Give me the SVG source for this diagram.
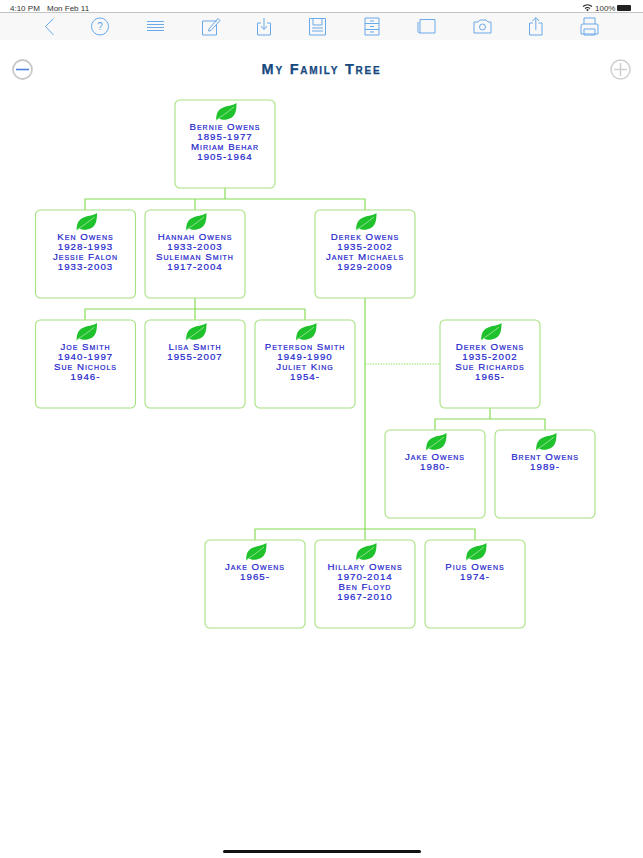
<svg xmlns="http://www.w3.org/2000/svg" xmlns:xlink="http://www.w3.org/1999/xlink" width="643" height="858" viewBox="0 0 643 858">
<style>
.box{fill:#fff;stroke:#a6e27e;stroke-width:1.1}
.t{font-family:"Liberation Sans",Arial,sans-serif;font-size:9.7px;font-variant:small-caps;letter-spacing:1px;fill:#2424cc;stroke:#2424cc;stroke-width:.2;text-anchor:middle}
.c{fill:none;stroke:#85dc55;stroke-width:1.2}
.d{fill:none;stroke:#85dc55;stroke-width:1;stroke-dasharray:1.3 1.3}
.i{fill:none;stroke:#6aa9ea;stroke-width:1}
.st{font-family:"Liberation Sans",Arial,sans-serif;font-size:8px;fill:#333}
</style>
<defs>
<g id="leaf">
<path d="M-10 8.500C-9.500 5-10-1-4-4 1-6.500 6-6 10.500-9 10.500-3 10 3 5 6 0 8.500-4 8-7 6.500L-10 8.500Z" fill="#1fc22c"/>
<path d="M-10.500 8.500C-4 4 2 0 8-5" fill="none" stroke="#d8f5d0" stroke-width=".6"/>
</g>
</defs>
<rect width="643" height="858" fill="#fff"/>
<g id="toolbar">
<rect x="0" y="13" width="643" height="27" fill="#f8f8f8"/>
<line x1="0" y1="12.500" x2="643" y2="12.500" stroke="#c4c4c4"/>
<text class="st" x="10" y="10.500">4:10 PM</text>
<text class="st" x="47" y="10.500">Mon Feb 11</text>
<text class="st" x="595" y="10.500">100%</text>
<path d="M583 6.500Q587.500 3 592 6.500M585 8.500Q587.500 6.500 590 8.500" fill="none" stroke="#222" stroke-width="1.200"/>
<circle cx="587.500" cy="10" r="1" fill="#222"/>
<rect x="617" y="5" width="14" height="6" rx="1" fill="#222"/>
<path class="i" d="M53.500 18.500L45.500 26.500L53.500 35"/>
<circle class="i" cx="100" cy="26.500" r="8.500"/>
<text x="100" y="30" font-family="Liberation Sans,sans-serif" font-size="10" fill="#5b9fe6" text-anchor="middle">?</text>
<path class="i" d="M147 21.500H164M147 24.500H164M147 27.500H164M147 30.500H164"/>
<path class="i" d="M217 21H202.500V35H216.500V24.500M209 29L218 18.500L220 20.500L211 30.500L208.500 31Z"/>
<path class="i" d="M261 23H257.500V35H270.500V23H267M264 18V29M261 26L264 29.500L267 26"/>
<path class="i" d="M309.500 18.500H325.500V35H309.500ZM313 18.500V25H322V18.500M312 28H323M312 31H323"/>
<path class="i" d="M365 18H379V35H365ZM365 23.500H379M365 29.500H379M370 21H374M370 26.500H374M370 32H374"/>
<path class="i" d="M418 22V31.500Q418 33 420 33M420 19.500H435V33H420Z"/>
<path class="i" d="M474 22H478L480 20H486L488 22H491V33H474Z"/>
<circle class="i" cx="482.500" cy="27" r="3"/>
<path class="i" d="M533 23H529.500V35H542V23H538.500M535.800 30V18M532.500 21L535.800 17.500L539 21"/>
<path class="i" d="M584 24V18H595V24M581 34H598V25Q598 24 596 24H583Q581 24 581 26ZM584 29H595V35H584Z"/>
</g>
<g id="zoom-out"><circle cx="22.500" cy="69.500" r="9.500" fill="#fff" stroke="#c8c8c8" stroke-width="1.800"/><line x1="16" y1="69.500" x2="29" y2="69.500" stroke="#4f80dd" stroke-width="1.600"/></g>
<g id="zoom-in"><circle cx="620.500" cy="69.500" r="9.500" fill="#fff" stroke="#cfcfcf" stroke-width="1.500"/><path d="M614 69.500H627M620.500 63V76" stroke="#cfcfcf" stroke-width="1.500"/></g>
<text id="title" x="321.500" y="74" font-family="Liberation Sans,Arial,sans-serif" font-size="14.500" font-weight="700" font-variant="small-caps" letter-spacing="1.750" fill="#17497f" stroke="#17497f" stroke-width=".25" text-anchor="middle">My Family Tree</text>
<g id="connectors">
<path class="c" d="M225 188V199M85 210V199H365V210M195 199V210"/>
<path class="c" d="M195 298V309M85 320V309H305V320M195 309V320"/>
<path class="c" d="M365 298V540M255 540V529H475V540"/>
<path class="d" d="M365 364H440"/>
<path class="c" d="M490 408V419M435 430V419H545V430"/>
</g>
<g id="n1"><rect class="box" x="175" y="100" width="100" height="88" rx="5"/><use xlink:href="#leaf" x="226" y="112"/><text class="t" x="225" y="129.500">Bernie Owens</text><text class="t" x="225" y="139.500">1895-1977</text><text class="t" x="225" y="149.500">Miriam Behar</text><text class="t" x="225" y="159.500">1905-1964</text></g>
<g id="n2"><rect class="box" x="35.500" y="210" width="100" height="88" rx="5"/><use xlink:href="#leaf" x="86.500" y="222"/><text class="t" x="85.500" y="239.500">Ken Owens</text><text class="t" x="85.500" y="249.500">1928-1993</text><text class="t" x="85.500" y="259.500">Jessie Falon</text><text class="t" x="85.500" y="269.500">1933-2003</text></g>
<g id="n3"><rect class="box" x="145" y="210" width="100" height="88" rx="5"/><use xlink:href="#leaf" x="196" y="222"/><text class="t" x="195" y="239.500">Hannah Owens</text><text class="t" x="195" y="249.500">1933-2003</text><text class="t" x="195" y="259.500">Suleiman Smith</text><text class="t" x="195" y="269.500">1917-2004</text></g>
<g id="n4"><rect class="box" x="315" y="210" width="100" height="88" rx="5"/><use xlink:href="#leaf" x="366" y="222"/><text class="t" x="365" y="239.500">Derek Owens</text><text class="t" x="365" y="249.500">1935-2002</text><text class="t" x="365" y="259.500">Janet Michaels</text><text class="t" x="365" y="269.500">1929-2009</text></g>
<g id="n5"><rect class="box" x="35.500" y="320" width="100" height="88" rx="5"/><use xlink:href="#leaf" x="86.500" y="332"/><text class="t" x="85.500" y="349.500">Joe Smith</text><text class="t" x="85.500" y="359.500">1940-1997</text><text class="t" x="85.500" y="369.500">Sue Nichols</text><text class="t" x="85.500" y="379.500">1946-</text></g>
<g id="n6"><rect class="box" x="145" y="320" width="100" height="88" rx="5"/><use xlink:href="#leaf" x="196" y="332"/><text class="t" x="195" y="349.500">Lisa Smith</text><text class="t" x="195" y="359.500">1955-2007</text></g>
<g id="n7"><rect class="box" x="255" y="320" width="100" height="88" rx="5"/><use xlink:href="#leaf" x="306" y="332"/><text class="t" x="305" y="349.500">Peterson Smith</text><text class="t" x="305" y="359.500">1949-1990</text><text class="t" x="305" y="369.500">Juliet King</text><text class="t" x="305" y="379.500">1954-</text></g>
<g id="n8"><rect class="box" x="440" y="320" width="100" height="88" rx="5"/><use xlink:href="#leaf" x="491" y="332"/><text class="t" x="490" y="349.500">Derek Owens</text><text class="t" x="490" y="359.500">1935-2002</text><text class="t" x="490" y="369.500">Sue Richards</text><text class="t" x="490" y="379.500">1965-</text></g>
<g id="n9"><rect class="box" x="385" y="430" width="100" height="88" rx="5"/><use xlink:href="#leaf" x="436" y="442"/><text class="t" x="435" y="459.500">Jake Owens</text><text class="t" x="435" y="469.500">1980-</text></g>
<g id="n10"><rect class="box" x="495" y="430" width="100" height="88" rx="5"/><use xlink:href="#leaf" x="546" y="442"/><text class="t" x="545" y="459.500">Brent Owens</text><text class="t" x="545" y="469.500">1989-</text></g>
<g id="n11"><rect class="box" x="205" y="540" width="100" height="88" rx="5"/><use xlink:href="#leaf" x="256" y="552"/><text class="t" x="255" y="569.500">Jake Owens</text><text class="t" x="255" y="579.500">1965-</text></g>
<g id="n12"><rect class="box" x="315" y="540" width="100" height="88" rx="5"/><use xlink:href="#leaf" x="366" y="552"/><text class="t" x="365" y="569.500">Hillary Owens</text><text class="t" x="365" y="579.500">1970-2014</text><text class="t" x="365" y="589.500">Ben Floyd</text><text class="t" x="365" y="599.500">1967-2010</text></g>
<g id="n13"><rect class="box" x="425" y="540" width="100" height="88" rx="5"/><use xlink:href="#leaf" x="476" y="552"/><text class="t" x="475" y="569.500">Pius Owens</text><text class="t" x="475" y="579.500">1974-</text></g>
<rect id="home-bar" x="223" y="850" width="198" height="3" rx="1.500" fill="#111"/>
</svg>
